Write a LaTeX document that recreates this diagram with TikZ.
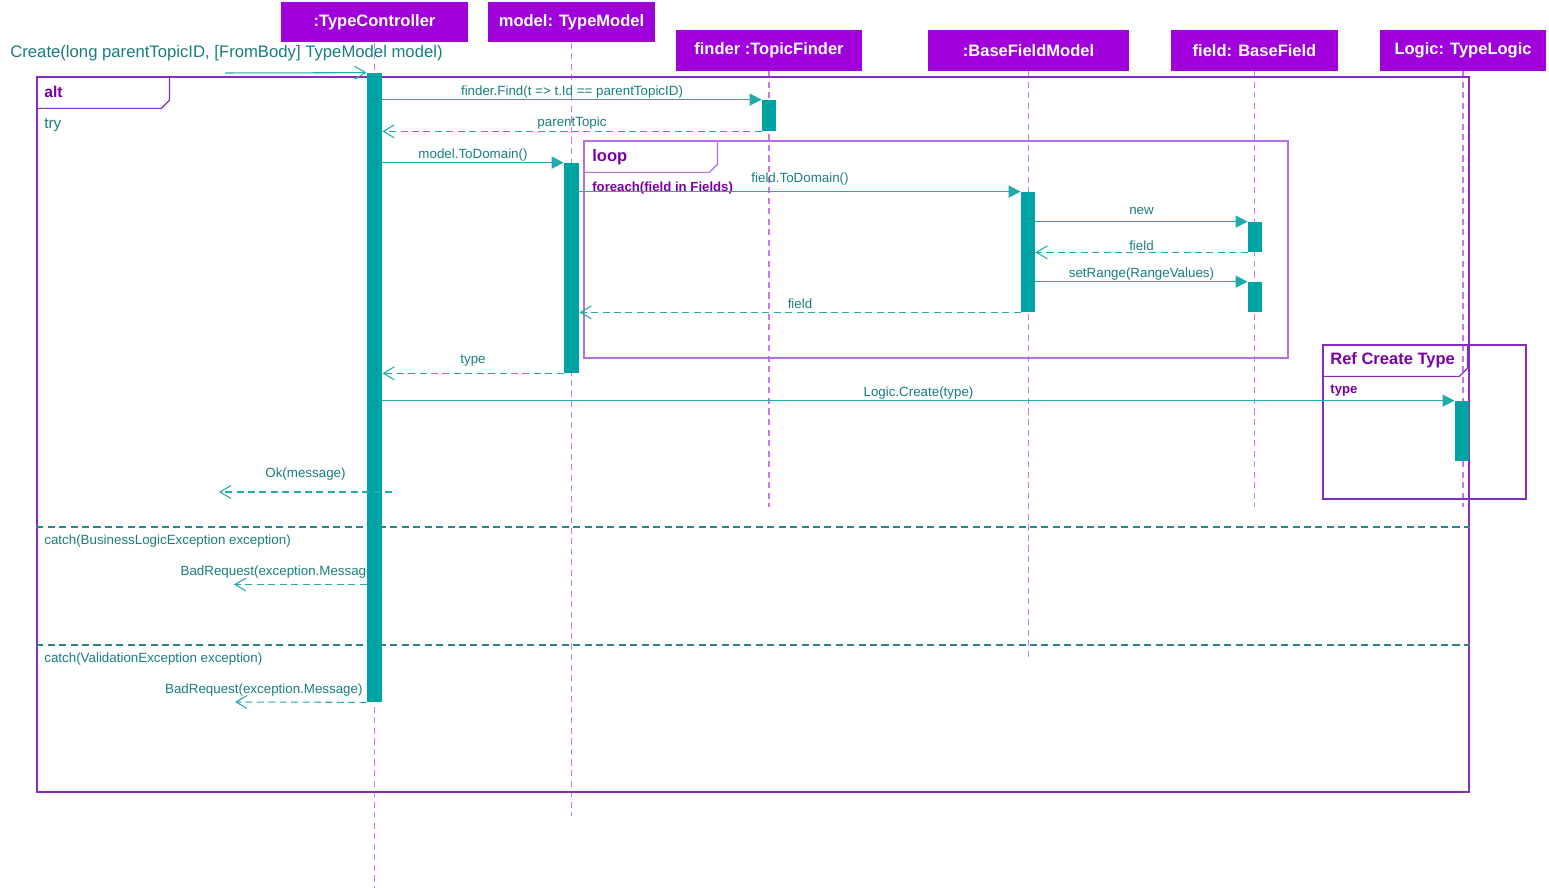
\documentclass[tikz,border=0pt]{standalone}
\usepackage{fontspec}
\setmainfont{Liberation Sans}
\usetikzlibrary{arrows.meta, positioning, calc, fit, backgrounds}
\definecolor{headpurple}{RGB}{160, 0, 218}
\definecolor{framepurple}{RGB}{135, 45, 185}
\definecolor{looppurple}{RGB}{185, 110, 222}
\definecolor{labelpurple}{RGB}{120, 0, 165}
\definecolor{lifepurple}{RGB}{200, 120, 235}
\definecolor{barteal}{RGB}{0, 163, 163}
\definecolor{lineteal}{RGB}{35, 170, 170}
\definecolor{textteal}{RGB}{25, 125, 125}
\definecolor{septeal}{RGB}{45, 130, 140}
\tikzstyle{head} = [rectangle, fill=headpurple, text=white, font=\fontsize{9.4}{11}\selectfont\bfseries, minimum height=0.81cm, inner sep=0pt]
\tikzstyle{lifeline} = [draw=lifepurple, line width=0.8pt, dash pattern=on 3.5pt off 2.5pt]
\tikzstyle{actbar} = [rectangle, fill=barteal, inner sep=0pt]
\tikzstyle{msg} = [draw=lineteal, line width=0.7pt, -{Triangle[length=2.4mm, width=2.4mm]}]
\tikzstyle{ret} = [draw=lineteal, line width=0.6pt, dash pattern=on 4pt off 2.5pt, -{Straight Barb[length=2.2mm, width=2.6mm]}]
\tikzstyle{found} = [draw=lineteal, line width=0.6pt, -{Straight Barb[length=2.2mm, width=2.6mm]}]
\tikzstyle{msglabel} = [font=\fontsize{7.6}{9}\selectfont, text=textteal, inner sep=0.6pt]
\tikzstyle{fragment} = [rectangle, draw=framepurple, line width=0.7pt, inner sep=0pt]
\tikzstyle{fraglabel} = [font=\fontsize{8.9}{10}\selectfont\bfseries, text=labelpurple, anchor=west, inner sep=0pt]
\tikzstyle{guard} = [font=\fontsize{7.5}{9}\selectfont\bfseries, text=labelpurple, anchor=west, inner sep=0pt]
\tikzstyle{sepline} = [draw=septeal, line width=0.6pt, dash pattern=on 4pt off 2.5pt]
\begin{document}
\begin{tikzpicture}[x=0.02cm, y=-0.02cm]
    \useasboundingbox (0,0) rectangle (1549,888);

    % Lifeline heads
    \node[head, minimum width=3.74cm] (ctrl) at (374.5,22) {:TypeController};
    \node[head, minimum width=3.34cm] (model) at (571.5,22) {model: TypeModel};
    \node[head, minimum width=3.72cm] (finder) at (769,50.5) {finder :TopicFinder};
    \node[head, minimum width=4.02cm] (bfm) at (1028.5,50.5) {:BaseFieldModel};
    \node[head, minimum width=3.34cm] (field) at (1254.5,50.5) {field: BaseField};
    \node[head, minimum width=3.32cm] (logic) at (1463,50.5) {Logic: TypeLogic};

    % Lifelines
    \draw[lifeline] (ctrl.south) -- ++(0,846);
    \draw[lifeline] (model.south) -- ++(0,773);
    \draw[lifeline] (finder.south) -- ++(0,436);
    \draw[lifeline] (bfm.south) -- ++(0,586);
    \draw[lifeline] (field.south) -- ++(0,436);
    \draw[lifeline] (logic.south) -- ++(0,436);

    % alt fragment
    \node[fragment, fit={(37,77) (1469,792)}] (alt) {};
    \draw[fragment] (alt.north west) ++(0,32) -- ++(125,0) -- ++(8,-8) -- ++(0,-24);
    \node[fraglabel] (altlbl) at (44,92) {alt};
    \node[msglabel, anchor=west, font=\fontsize{8.7}{10}\selectfont, inner sep=0pt] (trylbl) at (44,125) {try};
    \draw[sepline] (alt.west |- 0,527) -- (alt.east |- 0,527);
    \draw[sepline] (alt.west |- 0,645) -- (alt.east |- 0,645);
    \node[msglabel, anchor=west, inner sep=0pt] (catch1) at (44,541) {catch(BusinessLogicException exception)};
    \node[msglabel, anchor=west, inner sep=0pt] (catch2) at (44,659) {catch(ValidationException exception)};

    % loop fragment
    \node[fragment, draw=looppurple, fit={(584,141) (1288,358)}] (loop) {};
    \draw[fragment, draw=looppurple] (loop.north west) ++(0,32) -- ++(126,0) -- ++(8,-8) -- ++(0,-24);
    \node[fraglabel, font=\fontsize{9.4}{10}\selectfont\bfseries] (looplbl) at (592,157) {loop};
    \node[guard] (loopguard) at (592,188) {foreach(field in Fields)};

    % ref fragment
    \node[fragment, fit={(1323,345) (1526,499)}] (ref) {};
    \draw[fragment] (ref.north west) ++(0,32) -- ++(137,0) -- ++(8,-8) -- ++(0,-24);
    \node[fraglabel, font=\fontsize{9.4}{10}\selectfont\bfseries] (reflbl) at (1330,360) {Ref Create Type};
    \node[guard] (refguard) at (1330,391) {type};

    % Activation bars
    \node[actbar, fit={(367,73) (382,702)}] (cbar) {};
    \node[actbar, fit={(762,100) (776,131)}] (fbar) {};
    \node[actbar, fit={(564,163) (579,373)}] (mbar) {};
    \node[actbar, fit={(1021,192) (1035,312)}] (bbar) {};
    \node[actbar, fit={(1248,222) (1262,252)}] (nbar) {};
    \node[actbar, fit={(1248,282) (1262,312)}] (sbar) {};
    \node[actbar, fit={(1455,401) (1469,461)}] (lbar) {};

    % Messages
    \coordinate (createstart) at (225,73);
    \node[msglabel, anchor=west, font=\fontsize{9.5}{11}\selectfont, inner sep=0pt] (createlbl) at (10,53) {Create(long parentTopicID, [FromBody] TypeModel model)};
    \draw[found] (createstart) -- (cbar.north west);

    \draw[msg] (cbar.east |- fbar.north) -- node[msglabel, above] {finder.Find(t => t.Id == parentTopicID)} (fbar.north west);
    \draw[ret] (fbar.south west) -- node[msglabel, above] {parentTopic} (cbar.east |- fbar.south);
    \draw[msg] (cbar.east |- mbar.north) -- node[msglabel, above] {model.ToDomain()} (mbar.north west);
    \draw[msg] (mbar.east |- bbar.north) -- node[msglabel, above, yshift=0.1cm] {field.ToDomain()} (bbar.north west);
    \draw[msg] (bbar.east |- nbar.north) -- node[msglabel, above, yshift=0.1cm] {new} (nbar.north west);
    \draw[ret] (nbar.south west) -- node[msglabel, above] {field} (bbar.east |- nbar.south);
    \draw[msg] (bbar.east |- sbar.north) -- node[msglabel, above] {setRange(RangeValues)} (sbar.north west);
    \draw[ret] (bbar.south west) -- node[msglabel, above, yshift=0.04cm] {field} (mbar.east |- bbar.south);
    \draw[ret] (mbar.south west) -- node[msglabel, above, yshift=0.1cm] {type} (cbar.east |- mbar.south);
    \draw[msg] (cbar.east |- lbar.north) -- node[msglabel, above] {Logic.Create(type)} (lbar.north west);

    \coordinate (okstart) at (392,492);
    \coordinate (okend) at (219,492);
    \draw[ret] (okstart) -- node[msglabel, above, yshift=0.2cm] {Ok(message)} (okend);

    \coordinate (bad1end) at (234,584.5);
    \begin{scope}[on background layer]
        \draw[ret] (cbar.west |- 0,584.5) -- node[msglabel, pos=0, anchor=south east, xshift=0.26cm, yshift=0.1cm] {BadRequest(exception.Message)} (bad1end);
    \end{scope}
    \coordinate (bad2end) at (235,702);
    \draw[ret] (cbar.south west) -- node[msglabel, pos=0, anchor=south east, xshift=-0.05cm, yshift=0.1cm] {BadRequest(exception.Message)} (bad2end);
\end{tikzpicture}
\end{document}
